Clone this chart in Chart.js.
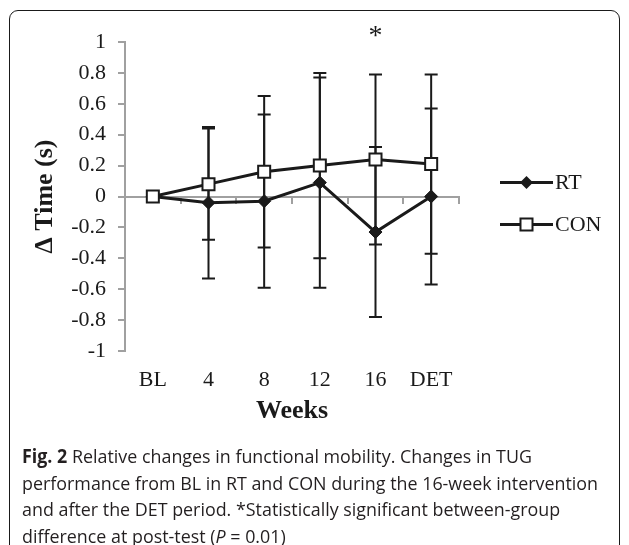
<!DOCTYPE html>
<html>
<head>
<meta charset="utf-8">
<script src="https://cdn.jsdelivr.net/npm/chart.js@4.4.0/dist/chart.umd.min.js"></script>
<style>
  html, body { margin: 0; padding: 0; background: #fff; }
  #wrap { position: relative; width: 629px; height: 545px; overflow: hidden; }
  #frame { position: absolute; left: 9px; top: 10px; width: 609px; height: 600px; border: 1.5px solid #1a1a1a; border-radius: 9px; }
  #chart { position: absolute; left: 0; top: 0; }
  #cap { position: absolute; left: 22px; top: 443px; font-family: "Open Sans"; font-size: 19px; line-height: 26.5px;
         color: #231f20; white-space: nowrap; transform-origin: 0 0; }
</style>
</head>
<body>
<div id="wrap">
  <div id="frame"></div>
  <canvas id="chart" width="629" height="545"></canvas>
  <div id="cap"><b>Fig. 2</b> Relative changes in functional mobility. Changes in TUG<br>performance from BL in RT and CON during the 16-week intervention<br>and after the DET period. *Statistically significant between-group<br>difference at post-test (<i>P</i> = 0.01)</div>
</div>
<script>
// data
const weeks = ['BL', '4', '8', '12', '16', 'DET'];
const rtMean = [0, -0.04, -0.03, 0.09, -0.23, 0];
const rtSD = [0, 0.49, 0.56, 0.68, 0.55, 0.57];
const conMean = [0, 0.08, 0.16, 0.20, 0.24, 0.21];
const conSD = [0, 0.36, 0.49, 0.60, 0.55, 0.58];
const sigMarks = ['', '', '', '', '*', ''];
const yMin = -1, yMax = 1, yStep = 0.2;

const ink = '#1a1a1a';
const axisGrey = '#a0a0a0';
const serif = '"Liberation Serif", "Times New Roman", serif';

// error bars drawn behind the markers
const errorBars = {
  id: 'errorBars',
  beforeDatasetsDraw(chart) {
    const ctx = chart.ctx, xs = chart.scales.x, ys = chart.scales.y;
    ctx.save();
    ctx.strokeStyle = ink;
    ctx.lineWidth = 2;
    chart.data.datasets.forEach(ds => {
      ds.data.forEach((v, i) => {
        const sd = ds.sd[i];
        if (!sd) return;
        const px = xs.getPixelForValue(i);
        const top = ys.getPixelForValue(v + sd);
        const bot = ys.getPixelForValue(v - sd);
        ctx.beginPath();
        ctx.moveTo(px, top); ctx.lineTo(px, bot);
        ctx.moveTo(px - 6.5, top); ctx.lineTo(px + 6.5, top);
        ctx.moveTo(px - 6.5, bot); ctx.lineTo(px + 6.5, bot);
        ctx.stroke();
      });
    });
    ctx.restore();
  }
};

// significance star + legend on the right
const extras = {
  id: 'extras',
  afterDraw(chart) {
    const ctx = chart.ctx, xs = chart.scales.x, area = chart.chartArea;
    ctx.save();
    ctx.fillStyle = ink;
    ctx.font = '28px ' + serif;
    ctx.textAlign = 'center';
    ctx.textBaseline = 'alphabetic';
    sigMarks.forEach((m, i) => {
      if (m) ctx.fillText(m, xs.getPixelForValue(i), area.top + 2);
    });

    const midY = (area.top + area.bottom) / 2;
    chart.data.datasets.forEach((ds, i) => {
      const cy = midY - 14 + i * 42;
      const x0 = area.right + 41, x1 = area.right + 94, cx = (x0 + x1) / 2;
      ctx.strokeStyle = ink;
      ctx.lineWidth = 3;
      ctx.beginPath(); ctx.moveTo(x0, cy); ctx.lineTo(x1, cy); ctx.stroke();
      ctx.beginPath();
      if (ds.pointStyle === 'rectRot') {
        const r = ds.pointRadius;
        ctx.moveTo(cx - r, cy); ctx.lineTo(cx, cy - r); ctx.lineTo(cx + r, cy); ctx.lineTo(cx, cy + r);
        ctx.closePath();
        ctx.fillStyle = ds.pointBackgroundColor;
        ctx.fill();
      } else {
        const h = ds.pointRadius * Math.SQRT1_2;
        ctx.rect(cx - h, cy - h, 2 * h, 2 * h);
        ctx.fillStyle = ds.pointBackgroundColor;
        ctx.fill();
        ctx.lineWidth = ds.pointBorderWidth;
        ctx.stroke();
      }
      ctx.fillStyle = ink;
      ctx.font = '22px ' + serif;
      ctx.textAlign = 'left';
      ctx.textBaseline = 'middle';
      ctx.fillText(ds.label, x1 + 2, cy + 1);
    });
    ctx.restore();
  }
};

new Chart(document.getElementById('chart').getContext('2d'), {
  type: 'line',
  data: {
    labels: weeks,
    datasets: [
      {
        label: 'RT', data: rtMean, sd: rtSD, xAxisID: 'x', yAxisID: 'y',
        borderColor: ink, borderWidth: 3, tension: 0, order: 2,
        pointStyle: 'rectRot', pointRadius: 6.5, pointBackgroundColor: ink,
        pointBorderColor: ink, pointBorderWidth: 1
      },
      {
        label: 'CON', data: conMean, sd: conSD, xAxisID: 'x', yAxisID: 'y',
        borderColor: ink, borderWidth: 3, tension: 0, order: 1,
        pointStyle: 'rect', pointRadius: 8.5, pointBackgroundColor: '#fff',
        pointBorderColor: ink, pointBorderWidth: 2
      }
    ]
  },
  options: {
    responsive: false,
    animation: false,
    layout: { padding: { top: 42, right: 170, bottom: 114, left: 0 } },
    plugins: { legend: { display: false }, tooltip: { enabled: false } },
    scales: {
      x: {
        type: 'category', position: 'bottom', offset: true,
        grid: { display: false, drawTicks: false },
        border: { display: false },
        ticks: { font: { family: serif, size: 22 }, color: ink, padding: 16 },
        title: { display: true, text: 'Weeks', color: ink,
                 font: { family: serif, size: 26, weight: 'bold' }, padding: { top: 0, bottom: 4 } },
        afterFit(scale) { scale.height = 80; }
      },
      x0: {
        type: 'category', position: { y: 0 }, offset: true,
        ticks: { display: false },
        grid: { offset: true, drawOnChartArea: false, drawTicks: true, tickLength: 6, color: axisGrey, lineWidth: 2 },
        border: { display: true, color: axisGrey, width: 2 }
      },
      y: {
        type: 'linear', position: 'left', min: yMin, max: yMax,
        ticks: {
          stepSize: yStep, font: { family: serif, size: 22 }, color: ink, padding: 12,
          callback: v => String(Number(v.toFixed(1)))
        },
        grid: { drawOnChartArea: false, drawTicks: true, tickLength: 7, color: axisGrey, lineWidth: 2 },
        border: { display: true, color: axisGrey, width: 2 },
        title: { display: true, text: 'Δ Time (s)', color: ink,
                 font: { family: serif, size: 26, weight: 'bold' }, padding: { top: 30, bottom: 0 } },
        afterFit(scale) { scale.width = 125; }
      }
    }
  },
  plugins: [errorBars, extras]
});

// squeeze the caption to the width of the original text block
const cap = document.getElementById('cap');
const m = document.createElement('canvas').getContext('2d');
m.font = '19px "Open Sans"';
const w = m.measureText('performance from BL in RT and CON during the 16-week intervention').width;
cap.style.transform = 'scaleX(' + (576 / w) + ')';
</script>
</body>
</html>
